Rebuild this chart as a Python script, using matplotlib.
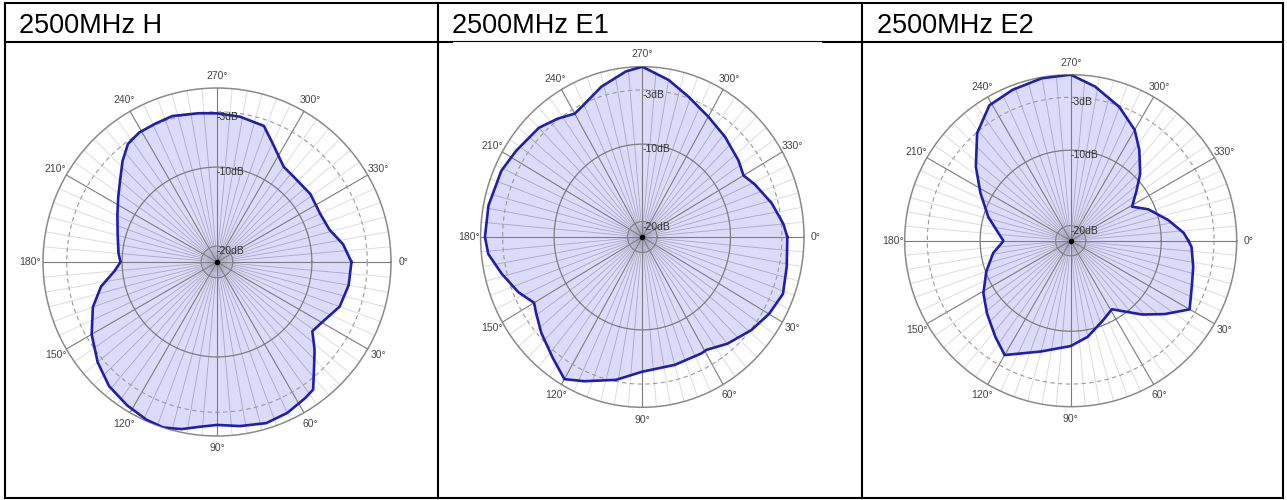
import matplotlib
matplotlib.use('Agg')
import matplotlib.pyplot as plt
import numpy as np
from matplotlib.lines import Line2D

plt.rcParams['font.family'] = ['Liberation Sans', 'DejaVu Sans']

titles = ['2500MHz H', '2500MHz E1', '2500MHz E2']

# angles in degrees (0 = right, clockwise), gain in dB
h_deg = [0, 10, 20, 30, 36, 42, 47, 53, 57, 65, 73, 82, 90, 96, 102, 108, 114, 122,
         131, 140, 150, 160, 168, 175, 180, 185, 195, 205, 213, 220, 227, 233, 239,
         246, 253, 263, 270, 279, 289, 295, 305, 312, 324, 335, 344, 352]
h_db = [-5.0, -5.1, -5.5, -6.7, -7.1, -5.4, -4.0, -1.8, -1.5, -0.95, -0.7, -1.05, -1.4,
        -1.05, -0.4, 0.0, -0.15, -0.6, -1.2, -2.3, -3.7, -5.3, -7.0, -9.0, -9.8, -9.5,
        -9.0, -8.1, -7.1, -6.0, -4.5, -3.3, -2.9, -2.85, -2.7, -3.05, -3.2, -3.4, -3.8,
        -5.4, -7.3, -7.5, -7.4, -7.6, -7.2, -5.9]

e1_deg = [0, 11, 21, 30, 39, 50, 59, 62, 75, 90, 101, 113, 120, 128, 138, 146, 150,
          157, 166, 174, 180, 191, 204, 213, 225, 233, 240, 244, 254, 264, 270, 280,
          289, 300, 311, 323, 330, 336, 346, 355]
e1_db = [-2.27, -1.98, -1.5, -2.1, -2.9, -4.0, -5.0, -4.95, -4.9, -4.6, -3.2, -1.76,
         -0.8, -2.2, -3.5, -4.55, -5.0, -3.7, -2.3, -0.93, -0.59, -0.68, -1.0, -1.54,
         -2.07, -2.86, -3.6, -3.26, -1.8, -0.5, 0.0, -1.4, -2.8, -4.05, -4.85, -5.6,
         -6.1, -5.26, -3.87, -2.73]

e2_deg = [0, 3, 12, 20, 30, 38, 46, 59, 68, 80, 90, 105, 120, 128, 139, 149, 160, 171,
          178, 180, 186, 196, 208, 218, 229, 239, 249, 260, 270, 279, 290, 300, 307,
          316, 323, 331, 338, 348, 356]
e2_db = [-6.4, -5.96, -5.4, -4.9, -3.8, -6.2, -8.4, -11.4, -10.6, -9.06, -8.04, -6.8,
         -4.5, -5.8, -7.3, -8.5, -10.1, -11.6, -12.85, -13.07, -12.37, -10.64, -8.44,
         -6.05, -3.1, -1.07, -0.57, -0.13, 0.0, -1.32, -3.14, -5.04, -6.9, -9.2, -11.1,
         -12.7, -10.9, -8.8, -7.0]

ring_db = [-20, -10, -3]
ring_labels = ['-20dB', '-10dB', '-3dB']

W, H = 1287, 500
fig = plt.figure(figsize=(W / 100, H / 100), dpi=100)


def line(x0, y0, x1, y1, lw=1.5):
    fig.add_artist(Line2D([x0 / W, x1 / W], [1 - y0 / H, 1 - y1 / H], color='black',
                          lw=lw, transform=fig.transFigure, solid_capstyle='projecting'))


# table frame
line(5, 3, 1283, 3)
line(5, 498, 1283, 498)
line(5, 3, 5, 498)
line(1283, 3, 1283, 498)
line(437.5, 3, 437.5, 498)
line(862, 3, 862, 498)
line(5, 41.5, 452, 41.5)
line(452, 40.8, 823, 40.8, lw=0.8)
line(823, 41.5, 1283, 41.5)

for x, t in zip([19, 452, 877], titles):
    fig.text(x / W, 1 - 33 / H, t, fontsize=19.5, ha='left', va='baseline')


def panel(cx, cy, rx, ry, deg, db):
    ax = fig.add_axes([(cx - rx) / W, (H - cy - ry) / H, 2 * rx / W, 2 * ry / H],
                      projection='polar')
    ax.set_aspect('auto')
    ax.set_theta_zero_location('E')
    ax.set_theta_direction(-1)
    ax.set_ylim(-22, 0)
    ax.set_xticks([])
    ax.set_yticks([])
    ax.grid(False)
    ax.spines['polar'].set_color('#8a8a8a')
    ax.spines['polar'].set_linewidth(1.1)

    th = np.deg2rad(np.r_[deg, deg[0]])
    r = np.r_[db, db[0]]

    spokes = [a for a in range(0, 360, 5) if a % 30]
    for a in spokes:
        ax.plot([np.deg2rad(a)] * 2, [-22, 0], color='#dcdcdc', lw=0.7, zorder=1)
    fill = ax.fill(th, r, color='#dcdcfa', lw=0, zorder=2)[0]
    for a in spokes:
        ln, = ax.plot([np.deg2rad(a)] * 2, [-22, 0], color='#a8a8c4', lw=0.6, zorder=3)
        ln.set_clip_path(fill)
    for a in range(0, 360, 30):
        ax.plot([np.deg2rad(a)] * 2, [-22, 0], color='#7c7c7c', lw=0.8, zorder=3)

    circ = np.linspace(0, 2 * np.pi, 361)
    ax.plot(circ, np.full_like(circ, -20), color='#808080', lw=0.8, zorder=3)
    ax.plot(circ, np.full_like(circ, -10), color='#7c7c7c', lw=0.9, zorder=3)
    ax.plot(circ, np.full_like(circ, -3), color='#9a9a9a', lw=0.8, ls=(0, (4, 3)), zorder=3)

    ax.plot(th, r, color='#1f1fae', lw=1.9, zorder=5)
    ax.plot([0], [-22], 'o', color='black', ms=3, zorder=6)

    for v, s in zip(ring_db, ring_labels):
        ax.text(np.deg2rad(270), v, s, ha='left', va='top', fontsize=7.5,
                color='#333333', zorder=7)
    for a in range(0, 360, 30):
        ax.text(np.deg2rad(a), 1.58, f'{a}°', ha='center', va='center',
                fontsize=7.5, color='#444444')
    return ax


panel(217, 262, 174, 174, h_deg, h_db)
panel(642.3, 237, 161.7, 170.3, e1_deg, e1_db)
panel(1070.7, 240.7, 166, 166, e2_deg, e2_db)

fig.savefig('out.png', dpi=100)
